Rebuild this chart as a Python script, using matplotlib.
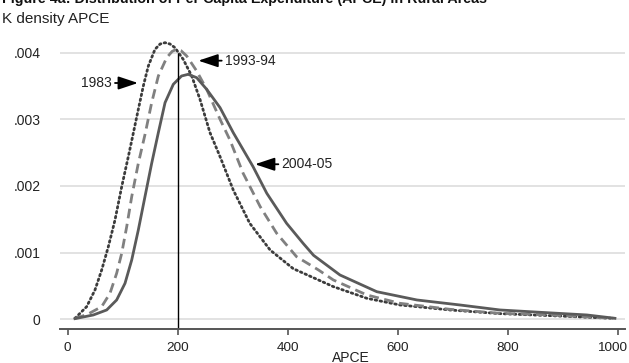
import numpy as np
import matplotlib
matplotlib.use("Agg")
import matplotlib.pyplot as plt
import matplotlib.transforms as mtrans

plt.rcParams['font.family'] = ['Liberation Sans Narrow', 'Liberation Sans', 'DejaVu Sans']

# ---------------- data (density in units of 1e-3) ----
apce_1983 = [13.3, 34.5, 49.6, 61.8, 73.9, 86, 98.2, 110.2, 120, 128.4, 137.5, 146.6, 158.7, 168,
             177, 186, 195, 210, 225.5, 240.5, 258.7, 277, 301, 331, 368, 410, 456, 483,
             544, 604, 695, 786, 877, 992]
dens_1983 = [0.015, 0.19, 0.44, 0.74, 1.09, 1.49, 1.99, 2.44, 2.82, 3.15, 3.50, 3.80, 4.05, 4.13,
             4.15, 4.13, 4.075, 3.90, 3.65, 3.30, 2.80, 2.44, 1.94, 1.44, 1.04, 0.76, 0.59, 0.49,
             0.315, 0.215, 0.14, 0.085, 0.055, 0.015]

apce_1993 = [13.3, 35, 61.8, 76.9, 89, 98.2, 107.3, 116.4, 128.4, 140.5, 152.7, 164.8, 180, 190,
             198, 206, 216.4, 234.5, 252.7, 277, 295, 319, 350, 380, 416, 456, 483,
             544, 604, 695, 786, 877, 992]
dens_1993 = [0.015, 0.07, 0.19, 0.39, 0.69, 0.99, 1.39, 1.84, 2.34, 2.77, 3.25, 3.65, 3.925, 4.02,
             4.05, 4.03, 3.95, 3.725, 3.45, 3.0, 2.69, 2.19, 1.69, 1.29, 0.94, 0.74, 0.59,
             0.365, 0.24, 0.15, 0.09, 0.065, 0.015]

apce_2004 = [13.3, 46.6, 70.9, 89, 104.2, 116.4, 128.4, 140.5, 152.7, 164.8, 177, 192, 207, 219,
             234.5, 252.7, 277, 301, 337, 362, 398, 428, 447, 495, 562, 635, 713, 786,
             859, 944, 995]
dens_2004 = [0.01, 0.065, 0.14, 0.29, 0.54, 0.89, 1.34, 1.84, 2.34, 2.80, 3.25, 3.525, 3.65, 3.675,
             3.625, 3.45, 3.175, 2.80, 2.29, 1.89, 1.44, 1.14, 0.96, 0.665, 0.414, 0.29, 0.215, 0.14,
             0.105, 0.065, 0.015]

x_ticks = [0, 200, 400, 600, 800, 1000]
y_ticks = [0, 0.001, 0.002, 0.003, 0.004]
y_tick_labels = ['0', '.001', '.002', '.003', '.004']

title = 'Figure 4a: Distribution of Per Capita Expenditure (APCE) in Rural Areas'
subtitle = 'K density APCE'

##################################### Figure ####################################
fig = plt.figure(figsize=(6.29, 3.63), dpi=100)
ax = fig.add_axes([60/629, 33.7/363, 565/629, 289.3/363])

ax.set_xlim(-14, 1013.3)
ax.set_ylim(-0.00015, 0.00419)

ax.set_yticks(y_ticks)
ax.set_yticklabels(y_tick_labels)
ax.set_xticks(x_ticks)
ax.grid(axis='y', color='#dddddd', lw=1.2)
ax.set_axisbelow(True)
for s in ['top', 'right', 'left']:
    ax.spines[s].set_visible(False)
ax.spines['bottom'].set_color('#555555')
ax.spines['bottom'].set_linewidth(1.4)
ax.tick_params(axis='y', length=0, pad=14, labelsize=10, colors='#222222')
ax.tick_params(axis='x', length=4, width=1.2, color='#555555', pad=5, labelsize=9.7, labelcolor='#222222')

# keep the last x label inside the figure edge
last = ax.get_xticklabels()[-1]
last.set_transform(last.get_transform() + mtrans.ScaledTranslation(-4/72, 0, fig.dpi_scale_trans))

ax.plot(apce_1983, np.array(dens_1983) / 1000, color='#3c3c3c', lw=2, ls=(0, (0.6, 1.2)),
        dash_capstyle='round', solid_capstyle='round')
ax.plot(apce_1993, np.array(dens_1993) / 1000, color='#808080', lw=2, ls=(0, (3.5, 2.0)))
ax.plot(apce_2004, np.array(dens_2004) / 1000, color='#5a5a5a', lw=2)

ax.vlines(200, -0.00015, 0.004, color='black', lw=1)

# arrows + labels
arr = dict(arrowstyle='-|>,head_length=1.2,head_width=0.4', color='black', lw=1.3,
           shrinkA=0, shrinkB=0, mutation_scale=10)
ax.annotate('', xy=(127.8, 0.003545), xytext=(86, 0.003545), arrowprops=arr)
ax.text(81, 0.003545, '1983', ha='right', va='center', fontsize=10, color='#222222')
ax.annotate('', xy=(237.5, 0.00388), xytext=(280, 0.00388), arrowprops=arr)
ax.text(286, 0.00388, '1993-94', ha='left', va='center', fontsize=10, color='#222222')
ax.annotate('', xy=(340.5, 0.002326), xytext=(383, 0.002326), arrowprops=arr)
ax.text(388, 0.002326, '2004-05', ha='left', va='center', fontsize=10, color='#222222')

ax.set_xlabel('APCE', fontsize=10, color='#222222')
ax.xaxis.set_label_coords(0.515, -0.075)
ax.xaxis.label.set_va('top')

fig.text(0.003, 1 - 3/363, title, ha='left', va='baseline', fontsize=10.3, fontweight='bold', color='#111111')
fig.text(0.003, 1 - 23.5/363, subtitle, ha='left', va='baseline', fontsize=11, color='#222222')

fig.savefig('out.png', dpi=100)
